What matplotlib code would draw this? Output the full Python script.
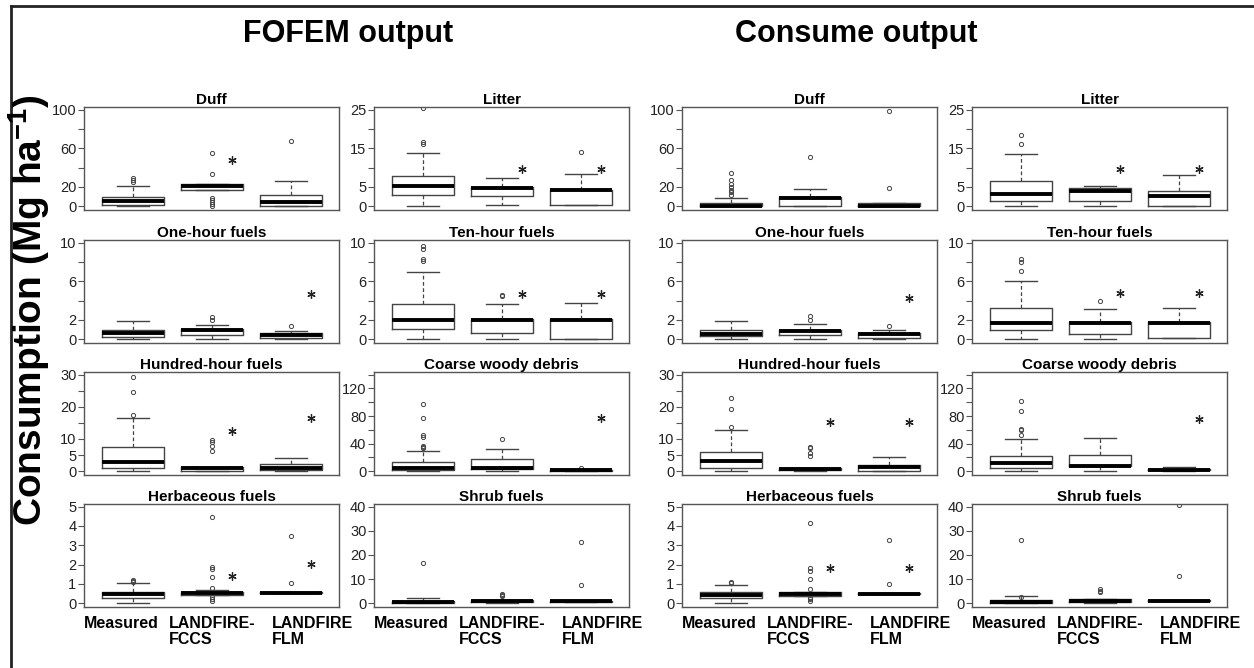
import numpy as np
import matplotlib
matplotlib.use("Agg")
import matplotlib.pyplot as plt
from matplotlib.lines import Line2D
import matplotlib.transforms as mtransforms

plt.rcParams['font.family'] = ['Liberation Sans', 'DejaVu Sans']
plt.rcParams['mathtext.fontset'] = 'custom'
plt.rcParams['mathtext.rm'] = 'Liberation Sans'
plt.rcParams['mathtext.bf'] = 'Liberation Sans:bold'

# panels, in reading order (2 per row, per model)
panels = ['Duff', 'Litter', 'One-hour fuels', 'Ten-hour fuels',
          'Hundred-hour fuels', 'Coarse woody debris', 'Herbaceous fuels', 'Shrub fuels']
sources = ['Measured', 'LANDFIRE-\nFCCS', 'LANDFIRE\nFLM']

# y axis: top tick, step, labelled ticks
y_top = [100, 25, 10, 10, 30, 140, 5, 40]
y_step = [20, 5, 2, 2, 5, 20, 1, 10]
y_labels = [['0', '20', '', '60', '', '100'],
            ['0', '5', '', '15', '', '25'],
            ['0', '2', '', '6', '', '10'],
            ['0', '2', '', '6', '', '10'],
            ['0', '5', '10', '', '20', '', '30'],
            ['0', '', '40', '', '80', '', '120', ''],
            ['0', '1', '2', '3', '4', '5'],
            ['0', '10', '20', '30', '40']]

# FOFEM output, rows = panels, cols = Measured / FCCS / FLM
fofem_lo = [[0, 16.4, 0], [0, 0.4, 0.3], [0, 0, 0], [0, 0, 0],
            [0, 0, 0], [0, 0, 0], [0, 0.4, 0.5], [0, 0, 0.4]]
fofem_q1 = [[1.1, 16.4, 0.3], [2.9, 2.5, 0.3], [0.25, 0.4, 0.1], [1.05, 0.6, 0.05],
            [1.1, 0.1, 0.2], [1.5, 3.4, 0.5], [0.29, 0.43, 0.5], [0, 0.3, 0.4]]
fofem_med = [[5.7, 20.7, 3.9], [5.2, 4.7, 4.1], [0.6, 0.95, 0.45], [2.0, 2.0, 2.0],
             [2.9, 0.9, 1.1], [4.4, 4.4, 1.0], [0.46, 0.5, 0.53], [0.4, 0.7, 0.7]]
fofem_q3 = [[9.9, 22.5, 11.8], [7.8, 4.9, 4.3], [0.95, 1.0, 0.6], [3.65, 2.05, 2.05],
            [7.4, 1.2, 2.2], [13, 17.5, 1.5], [0.6, 0.56, 0.56], [0.8, 1.1, 1.0]]
fofem_hi = [[21.4, 22.5, 26], [13.7, 7.2, 8.3], [1.9, 1.5, 0.85], [7.0, 3.6, 3.7],
            [16.4, 1.2, 4.2], [28.6, 32, 2.5], [1.03, 0.67, 0.56], [2.2, 1.5, 1.0]]
fofem_out = [[[25, 27, 29], [0.5, 2, 4, 6.5, 8.5, 33, 55.5], [68]],
             [[16, 16.6, 25.5], [], [14]],
             [[], [1.95, 2.25], [1.35]],
             [[8.1, 8.3, 9.3, 9.7], [4.5, 4.6], []],
             [[17.5, 24.7, 29.4], [6.3, 7.7, 9.0, 9.8], []],
             [[33, 35, 37, 50, 52, 77, 97.5], [46.6], [5]],
             [[1.1, 1.15, 1.2], [0.13, 0.24, 0.33, 0.8, 1.33, 1.75, 1.87, 4.45], [1.03, 3.48]],
             [[16.8], [3.1, 3.5, 3.9], [7.6, 25.3]]]
fofem_star = [[np.nan, 48, np.nan], [np.nan, 9.6, 9.6], [np.nan, np.nan, 4.7],
              [np.nan, 4.7, 4.7], [np.nan, 12.6, 16.4], [np.nan, np.nan, 76.7],
              [np.nan, 1.39, 2.04], [np.nan, np.nan, np.nan]]

# Consume output
cons_lo = [[0, 0, 0], [0, 0, 0], [0, 0, 0], [0, 0, 0.1],
           [0, 0, 0], [0, 0, 0], [0, 0.38, 0.45], [0, 0, 0.8]]
cons_q1 = [[0, 0, 0], [1.4, 1.4, 0], [0.28, 0.42, 0.17], [0.9, 0.55, 0.1],
           [1.1, 0.3, 0], [3.9, 6.8, 1.4], [0.26, 0.38, 0.45], [0, 0.3, 0.8]]
cons_med = [[0.3, 8.7, 0.3], [3.1, 3.8, 2.6], [0.55, 0.87, 0.49], [1.7, 1.7, 1.7],
            [3.1, 0.8, 1.35], [11.1, 7.7, 2.0], [0.4, 0.45, 0.47], [0.5, 0.7, 1.0]]
cons_q3 = [[3.2, 9.2, 3.2], [6.6, 4.6, 4.0], [0.94, 0.97, 0.6], [3.2, 1.77, 1.77],
           [6.0, 1.1, 1.9], [22.2, 23.7, 2.9], [0.57, 0.56, 0.5], [1.3, 1.6, 1.2]]
cons_hi = [[8.5, 17.5, 3.2], [13.5, 5.3, 8.2], [1.9, 1.53, 0.9], [6.08, 3.1, 3.23],
           [12.9, 1.1, 4.5], [47.3, 48.8, 5.3], [0.95, 0.59, 0.5], [2.9, 1.9, 1.2]]
cons_out = [[[12, 14.5, 17, 20, 23, 27, 34], [50.7], [19, 98.6]],
            [[16.1, 18.5], [], []],
            [[], [2.0, 2.35], [1.39]],
            [[7.08, 8.0, 8.3], [3.96], []],
            [[13.6, 19.2, 22.9], [4.8, 5.5, 7.2, 7.6], []],
            [[52, 60, 61.5, 87.4, 101.4], [], []],
            [[1.03, 1.1], [0.1, 0.19, 0.28, 0.75, 1.23, 1.68, 1.84, 4.17], [0.97, 3.26]],
            [[2.5, 26.1], [4.7, 5.2, 5.8], [11.3, 40.7]]]
cons_star = [[np.nan, np.nan, np.nan], [np.nan, 9.7, 9.7], [np.nan, np.nan, 4.27],
             [np.nan, 4.76, 4.76], [np.nan, 15.2, 15.2], [np.nan, np.nan, 76],
             [np.nan, 1.84, 1.84], [np.nan, np.nan, np.nan]]

W, H = 1254, 668
fig = plt.figure(figsize=(W / 100, H / 100), dpi=100)

col_left = [84, 374, 682, 972]
row_top = [107, 240, 372, 504]
ax_w, ax_h = 255, 103
pos = [1, 2, 3]
label_dx = [-0.15, 0.0, 0.28]

models = [(fofem_lo, fofem_q1, fofem_med, fofem_q3, fofem_hi, fofem_out, fofem_star),
          (cons_lo, cons_q1, cons_med, cons_q3, cons_hi, cons_out, cons_star)]

for m, (lo, q1, med, q3, hi, out, star) in enumerate(models):
    for p in range(8):
        r, c = p // 2, p % 2 + 2 * m
        ax = fig.add_axes([col_left[c] / W, 1 - (row_top[r] + ax_h) / H, ax_w / W, ax_h / H])
        stats = []
        for b in range(3):
            stats.append(dict(whislo=lo[p][b], q1=q1[p][b], med=med[p][b], q3=q3[p][b],
                              whishi=hi[p][b], fliers=out[p][b]))
        ax.bxp(stats, positions=pos, widths=0.79, capwidths=0.4, showfliers=True,
               boxprops=dict(color='#444444', lw=1.0),
               medianprops=dict(color='black', lw=2.8, solid_capstyle='butt'),
               whiskerprops=dict(color='#444444', lw=0.9, linestyle=(0, (3, 2))),
               capprops=dict(color='#444444', lw=1.0),
               flierprops=dict(marker='o', markersize=3, markerfacecolor='none',
                               markeredgecolor='#444444', markeredgewidth=0.7))
        ax.plot(np.array(pos) + 0.25, star[p], linestyle='none', marker=(6, 2, 0),
                markersize=6, mew=0.9, color='#222222')
        top = y_top[p]
        ax.set_ylim(-0.04 * top, top * 1.028)
        ax.set_xlim(0.38, 3.61)
        ticks = np.arange(0, top + y_step[p] / 2, y_step[p])
        ax.set_yticks(ticks)
        ax.set_yticklabels(y_labels[p])
        ax.set_xticks([])
        ax.tick_params(axis='y', length=4, width=0.8, color='#555555', labelsize=10.5,
                       labelcolor='#222222', pad=1.5)
        for s in ax.spines.values():
            s.set_color('#555555')
            s.set_linewidth(1.0)
        ax.set_title(panels[p], fontsize=11, fontweight='bold', pad=2)
        if r == 3:
            trans = mtransforms.blended_transform_factory(ax.transData, ax.transAxes)
            for b in range(3):
                ax.text(pos[b] + label_dx[b], -0.09, sources[b], transform=trans,
                        ha='center', va='top', multialignment='left',
                        fontsize=11.5, fontweight='bold', linespacing=1.1)

fig.text(348 / W, 1 - 42 / H, 'FOFEM output', fontsize=22, fontweight='bold',
         ha='center', va='baseline')
fig.text(856 / W, 1 - 42 / H, 'Consume output', fontsize=22, fontweight='bold',
         ha='center', va='baseline')
fig.text(29 / W, 1 - 310 / H, r'Consumption (Mg ha$^{\mathbf{-1}}$)', fontsize=28,
         fontweight='bold', rotation=90, ha='center', va='center')

# outer frame (left and top only)
fig.add_artist(Line2D([11 / W, 11 / W], [0, 1 - 6 / H], color='#222222', lw=2))
fig.add_artist(Line2D([11 / W, 1], [1 - 6 / H, 1 - 6 / H], color='#222222', lw=2))

fig.savefig('out.png', dpi=100)
